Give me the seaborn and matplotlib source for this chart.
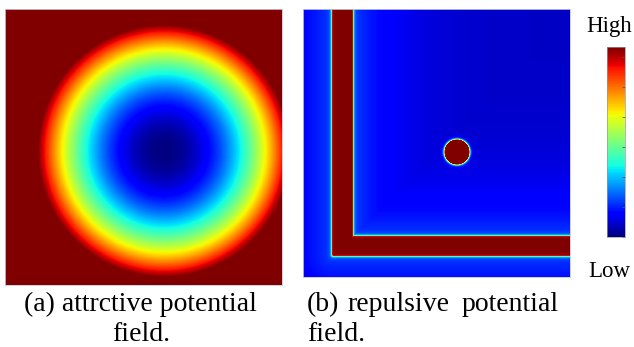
import seaborn as sns
import numpy as np
import matplotlib.pyplot as plt

# panel (a): attractive field, sizes in pixels of the panel
att_shape = (276, 277)          # rows, cols
goal = [159, 142]               # x, y of goal (field minimum)
goal_reach = 126                # distance where field saturates
att_power = 2.0

# panel (b): repulsive field
rep_shape = (268, 267)
# rectangles: x0, x1, y0, y1
walls = [[30, 49, 0, 246],
         [30, 267, 228, 246]]
disc = [154, 143, 12]           # x, y, radius
rep_floor = 0.06
rep_near = 0.13
rep_decay = 45
edge_gain = 1.2
edge_width = 1.0

cbar_ticks = [0, 0.158, 0.316, 0.474, 0.632, 0.79, 0.947]

cap_a = ["(a) attrctive potential", "field."]
cap_b = ["(b)", "repulsive", "potential", "field."]

plt.rcParams['font.family'] = ['Liberation Serif', 'DejaVu Serif']

# attractive potential
yy, xx = np.mgrid[0:att_shape[0], 0:att_shape[1]] + 0.5
r = np.hypot(xx - goal[0], yy - goal[1])
att = np.clip((r / goal_reach) ** att_power, 0, 1)

# repulsive potential
yy, xx = np.mgrid[0:rep_shape[0], 0:rep_shape[1]] + 0.5


def rect_dist(x0, x1, y0, y1):
    dx = np.maximum(np.maximum(x0 - xx, xx - x1), 0)
    dy = np.maximum(np.maximum(y0 - yy, yy - y1), 0)
    return np.hypot(dx, dy)


d_walls = np.minimum.reduce([rect_dist(*w) for w in walls])
d_disc = np.maximum(np.hypot(xx - disc[0], yy - disc[1]) - disc[2], 0)
d_all = np.minimum(d_walls, d_disc)
rep = rep_floor + rep_near * np.exp(-d_walls / rep_decay)
rep = np.clip(rep + edge_gain * np.exp(-d_all / edge_width), 0, 1)

fig = plt.figure(figsize=(6.34, 3.47), dpi=100)
W, H = 634, 347


def box(x0, y0, x1, y1):
    return [x0 / W, 1 - y1 / H, (x1 - x0) / W, (y1 - y0) / H]


ax1 = fig.add_axes(box(5, 9, 282, 285))
sns.heatmap(att, ax=ax1, cmap="jet", vmin=0, vmax=1, cbar=False,
            xticklabels=False, yticklabels=False)

ax2 = fig.add_axes(box(303, 9, 570, 277))
sns.heatmap(rep, ax=ax2, cmap="jet", vmin=0, vmax=1, cbar=False,
            xticklabels=False, yticklabels=False)

for ax in (ax1, ax2):
    for s in ax.spines.values():
        s.set_visible(True)
        s.set_color('#c8c8d8')
        s.set_linewidth(0.6)

# colour bar drawn as a gradient column
n = 190
grad = np.linspace(1, 0, n).reshape(-1, 1)
ax3 = fig.add_axes(box(607, 47, 625, 237))
sns.heatmap(grad, ax=ax3, cmap="jet", vmin=0, vmax=1, cbar=False,
            xticklabels=False, yticklabels=False)
ax3.yaxis.tick_right()
ax3.set_yticks([n * (1 - t) for t in cbar_ticks])
ax3.set_yticklabels([])
ax3.tick_params(axis='y', direction='in', length=2.5, width=0.6,
                color='#555555', right=True, left=False)
for s in ax3.spines.values():
    s.set_visible(True)
    s.set_color('#999999')
    s.set_linewidth(0.5)

fs = 20
fig.text(609 / W, 1 - 32 / H, "High", ha='center', va='baseline', fontsize=16.5)
fig.text(609 / W, 1 - 277 / H, "Low", ha='center', va='baseline', fontsize=16.5)

fig.text(140 / W, 1 - 311 / H, cap_a[0], ha='center', va='baseline', fontsize=fs)
fig.text(141 / W, 1 - 341 / H, cap_a[1], ha='center', va='baseline', fontsize=fs)

fig.text(307 / W, 1 - 311 / H, cap_b[0], ha='left', va='baseline', fontsize=fs)
fig.text(398 / W, 1 - 311 / H, cap_b[1], ha='center', va='baseline', fontsize=fs)
fig.text(559 / W, 1 - 311 / H, cap_b[2], ha='right', va='baseline', fontsize=fs)
fig.text(307 / W, 1 - 341 / H, cap_b[3], ha='left', va='baseline', fontsize=fs)

plt.savefig('out.png', dpi=100)
